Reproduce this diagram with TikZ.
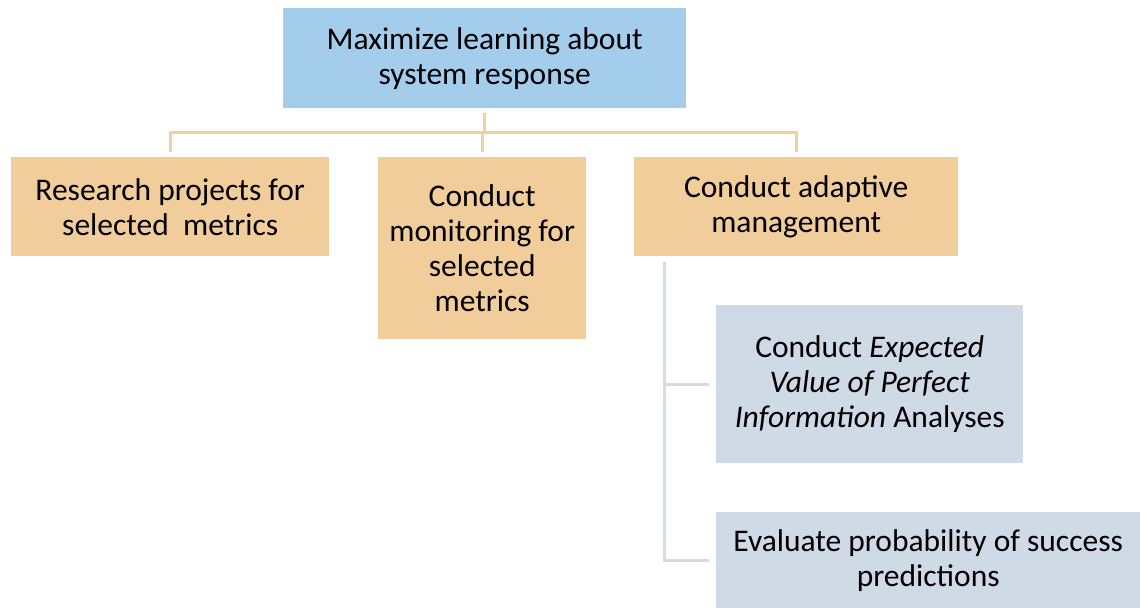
\documentclass[tikz,border=0pt]{standalone}
\usepackage{fontspec}
\setmainfont{Carlito}
\definecolor{topblue}{RGB}{164,205,236}
\definecolor{boxorange}{RGB}{241,205,155}
\definecolor{boxgrey}{RGB}{207,218,230}
\definecolor{lineorange}{RGB}{242,207,158}
\definecolor{linegrey}{RGB}{208,220,232}
\tikzset{
  box/.style={anchor=north west, inner sep=0pt, align=center, text=black,
    font=\fontsize{31.5}{35}\selectfont},
  oline/.style={draw=lineorange, line width=3pt},
  gline/.style={draw=linegrey, line width=3pt},
}
\begin{document}
\begin{tikzpicture}[x=1pt,y=-1pt]
\useasboundingbox (0,0) rectangle (1140,608);
\node[box, fill=topblue, minimum width=403pt, minimum height=100pt] (top) at (283,8)
  {Maximize learning about\\system response};
\node[box, fill=boxorange, minimum width=318pt, minimum height=99pt] (b1) at (11,157)
  {Research projects for\\selected\ \ metrics};
\node[box, fill=boxorange, minimum width=208pt, minimum height=182pt] (b2) at (378,157)
  {Conduct\\monitoring for\\selected\\metrics};
\node[box, fill=boxorange, minimum width=324pt, minimum height=99pt] (b3) at (634,157)
  {Conduct adaptive\\management};
\node[box, fill=boxgrey, minimum width=307pt, minimum height=158pt] (b4) at (716,305)
  {Conduct \textit{Expected}\\\textit{Value of Perfect}\\\textit{Information} Analyses};
\node[box, fill=boxgrey, minimum width=424pt, minimum height=96pt] (b5) at (716,512)
  {Evaluate probability of success\\predictions};
% orange tree
\coordinate (stem) at ([yshift=-5pt]top.south);
\coordinate (bar) at ([yshift=-24pt]top.south);
\draw[oline] (stem) -- (bar);
\draw[oline] ([yshift=5pt]b1.north) |- (bar -| b3.north) -- ([yshift=5pt]b3.north);
\draw[oline] ([yshift=5pt]b2.north) -- (bar -| b2.north);
% grey tree
\coordinate (trunk) at ([xshift=30pt,yshift=-6pt]b3.south west);
\draw[gline] (trunk) |- ([xshift=-7pt]b5.west);
\draw[gline] (trunk |- b4.west) -- ([xshift=-7pt]b4.west);
\end{tikzpicture}
\end{document}
